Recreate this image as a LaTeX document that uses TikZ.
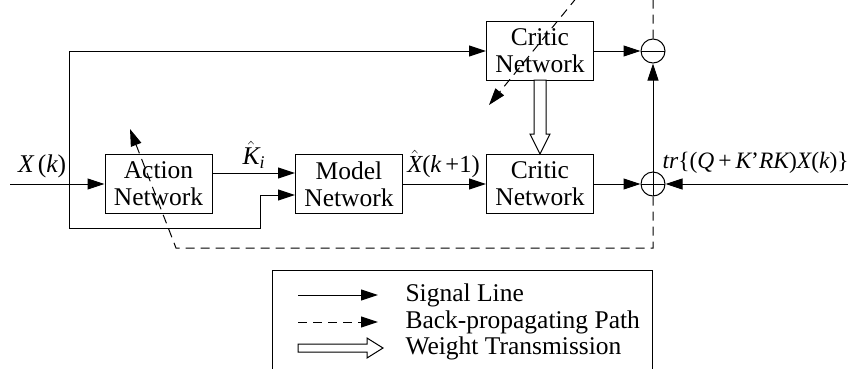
\documentclass[tikz,border=0pt]{standalone}
\usepackage{amsmath}
\usepackage{fontspec}
\setmainfont{Liberation Serif}
\usetikzlibrary{arrows.meta}

\newcommand{\vi}[1]{\text{\itshape #1}}

\tikzset{
  netbox/.style={draw, line width=1pt, minimum width=107pt, minimum height=59pt, inner sep=0pt, align=center},
  sumnode/.style={draw, circle, line width=1pt, minimum size=24pt, inner sep=0pt},
  minusnode/.style={sumnode, path picture={\draw[line width=1pt] (path picture bounding box.west) -- (path picture bounding box.east);}},
  plusnode/.style={sumnode, path picture={\draw[line width=0.8pt] (path picture bounding box.west) -- (path picture bounding box.east) (path picture bounding box.north) -- (path picture bounding box.south);}},
  sig/.style={line width=1pt, -{Triangle[length=17pt,width=11pt]}},
  bp/.style={sig, dash pattern=on 9pt off 6pt},
  wt/.style={line width=1pt, fill=white},
}

\begin{document}
\begin{tikzpicture}[x=1pt, y=-1pt, font=\fontsize{25.5}{27}\selectfont]
\clip (0,0) rectangle (848,368);

% blocks
\node[netbox] (act) at (158.5,184) {Action\\Network};
\node[netbox] (model) at (349,184) {Model\\Network};
\node[netbox] (critL) at (540,184) {Critic\\Network};
\node[netbox] (critU) at (540,51) {Critic\\Network};
\node[minusnode] (minus) at (653,51) {};
\node[plusnode] (plus) at (653,184) {};

\coordinate (in) at (10,184);
\coordinate (split) at (69,184);
\coordinate (lowturn) at (260,228);
\coordinate (rin) at (850,184);

% signal lines
\draw[sig] (in) -- (act.west) node[pos=0.34, above=2pt] {\vi{X}\,(\vi{k})};
\draw[sig] (split) |- (critU.west);
\draw[sig] (split) |- (lowturn) |- ([yshift=-11pt]model.west);
\draw[sig] ([yshift=11pt]act.east) -- ([yshift=11pt]model.west) node[midway, above=1pt] {$\hat{\vi{K}}_{\vi{i}}$};
\draw[sig] (model) -- (critL) node[midway, above=2pt, xshift=-1pt, font=\fontsize{24.5}{27}\selectfont] {$\hat{\vi{X}}$(\vi{k}\,+1)};
\draw[sig] (critU) -- (minus);
\draw[sig] (critL) -- (plus);
\draw[sig] (plus) -- (minus);
\draw[sig] (rin) -- (plus);
\node[anchor=south west, inner sep=0pt, font=\fontsize{23.5}{27}\selectfont] (trlab) at ([xshift=-3pt, yshift=10pt]plus.east) {\vi{tr}\{(\vi{Q}\,+\,\vi{K}'\vi{RK})\vi{X}(\vi{k})\}};

% back-propagating paths
\coordinate (abend) at (176,248);
\coordinate (atip) at (130,129);
\coordinate (cbend) at (578,-4);
\coordinate (ctip) at (489,105);
\draw[bp] (plus.south) |- (abend) -- (atip);
\draw[bp] (minus.north) |- (cbend) -- (ctip);

% weight transmission
\draw[wt] (534,80) -- (546,80) -- (546,134) -- (550,134) -- (540,154) -- (530,134) -- (534,134) -- cycle;

% legend
\draw[line width=1pt] (272,270) rectangle (652,380);
\coordinate (sigA) at (298,295);
\coordinate (sigB) at (378,295);
\coordinate (bpA) at (298,322);
\coordinate (bpB) at (378,322);
\draw[sig] (sigA) -- (sigB);
\draw[bp] (bpA) -- (bpB);
\draw[wt] (298,344) -- (367,344) -- (367,338) -- (383,348) -- (367,358) -- (367,352) -- (298,352) -- cycle;
\node[anchor=west] (lgsig) at (402,295) {Signal Line};
\node[anchor=west] (lgbp) at (402,322) {Back-propagating Path};
\node[anchor=west] (lgwt) at (402,348) {Weight Transmission};
\end{tikzpicture}
\end{document}
